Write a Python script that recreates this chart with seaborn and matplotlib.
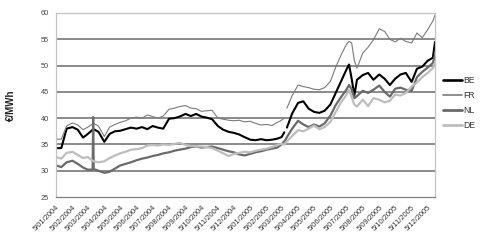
import numpy as np
import pandas as pd
import matplotlib
matplotlib.use("Agg")
import matplotlib.pyplot as plt
import seaborn as sns

dates = [
    "2004-01-05", "2004-01-15", "2004-01-25",
    "2004-02-05", "2004-02-15", "2004-02-25",
    "2004-03-05", "2004-03-14", "2004-03-15", "2004-03-16", "2004-03-25",
    "2004-04-05", "2004-04-15", "2004-04-25",
    "2004-05-05", "2004-05-15", "2004-05-25",
    "2004-06-05", "2004-06-15", "2004-06-25",
    "2004-07-05", "2004-07-15", "2004-07-25",
    "2004-08-05", "2004-08-15", "2004-08-25",
    "2004-09-05", "2004-09-15", "2004-09-25",
    "2004-10-05", "2004-10-15", "2004-10-25",
    "2004-11-05", "2004-11-15", "2004-11-25",
    "2004-12-05", "2004-12-15", "2004-12-25",
    "2005-01-05", "2005-01-15", "2005-01-25",
    "2005-02-05", "2005-02-15", "2005-02-25",
    "2005-03-05", "2005-03-10", "2005-03-12", "2005-03-15", "2005-03-25",
    "2005-04-05", "2005-04-15", "2005-04-25",
    "2005-05-05", "2005-05-15", "2005-05-25",
    "2005-06-05", "2005-06-15", "2005-06-25",
    "2005-07-05", "2005-07-10", "2005-07-15", "2005-07-20", "2005-07-25",
    "2005-08-05", "2005-08-15", "2005-08-25",
    "2005-09-05", "2005-09-15", "2005-09-25",
    "2005-10-05", "2005-10-15", "2005-10-25",
    "2005-11-05", "2005-11-15", "2005-11-25",
    "2005-12-05", "2005-12-15", "2005-12-19",
]

nan = np.nan
be = [34.3, 34.3, 38.0, 38.3, 37.8, 36.3, 37.0, 37.8, 37.9, 37.9, 37.4,
      35.5, 37.0, 37.5, 37.6, 37.9, 38.2, 38.0, 38.3, 37.9, 38.5, 38.2, 38.0,
      39.9, 40.0, 40.3, 40.8, 40.4, 40.8, 40.3, 40.1, 39.8, 38.5, 37.8, 37.4,
      37.2, 36.9, 36.4,
      35.9, 35.8, 36.0, 35.8, 35.9, 36.1, 36.4, 37.3, nan, 38.2, 40.9,
      42.9, 43.2, 41.8, 41.2, 41.0, 41.4, 42.6, 44.8, 47.0,
      49.2, 50.2, 47.5, 44.3, 47.3, 48.2, 48.6, 47.3, 48.3, 47.5, 46.3,
      47.5, 48.3, 48.6, 46.9, 49.4, 49.8, 50.9, 51.5, 54.5]
fr = [36.0, 36.0, 38.5, 39.1, 38.7, 37.8, 38.3, 38.9, 39.0, 39.0, 38.5,
      36.5, 38.3, 38.8, 39.2, 39.5, 40.0, 40.2, 40.0, 40.6, 40.3, 40.0, 40.4,
      41.7, 41.9, 42.2, 42.4, 41.9, 41.8, 41.3, 41.4, 41.5, 40.0, 39.8, 39.6,
      39.5, 39.6, 39.3,
      39.4, 39.0, 38.7, 38.8, 38.6, 39.2, 39.6, 40.0, nan, 41.9, 44.3,
      46.3, 46.0, 45.8, 45.5, 45.4, 45.8, 47.0, 49.7, 52.0,
      54.0, 54.6, 54.3, 51.0, 49.5, 52.4, 53.5, 54.9, 57.0, 56.5, 55.0,
      54.5, 55.2, 54.6, 54.3, 56.2, 55.3, 56.8, 58.5, 59.6]
nl = [31.0, 30.7, 31.6, 31.9, 31.3, 30.6, 30.2, 30.2, 40.2, 30.3, 30.0,
      29.6, 29.8, 30.4, 31.0, 31.3, 31.6, 32.0, 32.3, 32.5, 32.8, 33.0, 33.3,
      33.5, 33.8, 34.0, 34.2, 34.5, 34.6, 34.4, 34.5, 34.6, 34.3, 34.0, 33.7,
      33.5, 33.1, 32.9,
      33.2, 33.5, 33.7, 34.0, 34.2, 34.4, 35.0, 35.6, 35.8, 36.4, 38.0,
      39.5, 38.8, 38.3, 38.8, 38.4, 39.0, 40.5, 42.5, 44.0,
      45.4, 46.3, 45.5, 43.8, 44.2, 45.2, 44.8, 45.4, 46.2, 45.0, 44.1,
      45.6, 45.8, 45.4, 45.2, 47.8, 48.8, 49.6, 50.5, 52.0]
de = [32.6, 32.3, 33.4, 33.6, 33.0, 32.4, 32.6, 31.9, 31.8, 31.8, 31.6,
      31.8, 32.4, 32.9, 33.3, 33.6, 34.0, 34.1, 34.3, 34.8, 34.9, 34.8, 35.0,
      34.9, 35.1, 35.3, 34.9, 34.7, 34.6, 34.6, 34.5, 34.3, 33.8, 33.3, 32.8,
      33.2, 33.4, 33.6,
      33.5, 33.8, 34.0, 34.2, 34.5, 34.9, 35.1, 35.0, 35.2, 35.6, 36.6,
      37.7, 37.5, 38.0, 38.6, 37.9, 38.3, 39.3, 41.2, 43.0,
      44.4, 45.4, 44.0, 42.6, 42.2, 43.5, 42.3, 43.8, 43.5, 43.0, 43.3,
      44.5, 44.3, 44.8, 46.0, 46.8, 47.8, 48.6, 49.5, 50.5]

series_names = ["BE", "FR", "NL", "DE"]
tick_labels = [
    "5/01/2004", "5/02/2004", "5/03/2004", "5/04/2004", "5/05/2004", "5/06/2004",
    "5/07/2004", "5/08/2004", "5/09/2004", "5/10/2004", "5/11/2004", "5/12/2004",
    "5/01/2005", "5/02/2005", "5/03/2005", "5/04/2005", "5/05/2005", "5/06/2005",
    "5/07/2005", "5/08/2005", "5/09/2005", "5/10/2005", "5/11/2005", "5/12/2005",
]
y_ticks = [25, 30, 35, 40, 45, 50, 55, 60]

sns.set_style("white")
plt.rcParams["font.family"] = ["Liberation Sans", "DejaVu Sans"]

frames = []
for name, vals in zip(series_names, [be, fr, nl, de]):
    d = pd.DataFrame({"date": pd.to_datetime(dates), "price": vals, "series": name})
    d["seg"] = d["price"].isna().cumsum()
    frames.append(d.dropna())
df = pd.concat(frames, ignore_index=True)

styles = {
    "BE": dict(color="#000000", lw=1.5),
    "FR": dict(color="#7a7a7a", lw=0.8),
    "NL": dict(color="#6a6a6a", lw=1.6),
    "DE": dict(color="#bdbdbd", lw=1.6),
}

fig = plt.figure(figsize=(4.8, 2.4), dpi=100)
ax = fig.add_axes([56 / 480, 1 - 197 / 240, (435 - 56) / 480, (197 - 13) / 240])

for y in y_ticks[1:-1]:
    ax.axhline(y, color="#777777", lw=1.2, zorder=0)

for name in series_names:
    sub = df[df["series"] == name]
    sns.lineplot(data=sub, x="date", y="price", units="seg", estimator=None,
                 ax=ax, color=styles[name]["color"], lw=styles[name]["lw"],
                 legend=False)

handles = [plt.Line2D([], [], color=styles[n]["color"], lw=styles[n]["lw"] + 0.4) for n in series_names]
fig.legend(handles, series_names, loc="upper left", bbox_to_anchor=(443 / 480, 1 - 76 / 240),
           frameon=False, fontsize=6.2, handlelength=2.2, handletextpad=0.15,
           labelspacing=0.7, borderpad=0, borderaxespad=0, labelcolor="#333333")

tick_dates = pd.date_range("2004-01-05", periods=len(tick_labels), freq=pd.DateOffset(months=1))
ax.set_xticks(tick_dates)
ax.set_xticklabels(tick_labels, rotation=45, ha="right", rotation_mode="anchor",
                   fontsize=5.4, color="#333333")
ax.set_xlim(pd.Timestamp("2004-01-05"), pd.Timestamp("2005-12-19"))
ax.set_ylim(25, 60)
ax.set_yticks(y_ticks)
ax.set_yticklabels([str(v) for v in y_ticks], fontsize=5.3, color="#444444")
ax.tick_params(axis="x", length=3, width=0.7, color="#808080", pad=2, direction="out")
ax.tick_params(axis="y", length=0, pad=5)
ax.set_xlabel("")
ax.set_ylabel("€/MWh", fontsize=7, fontweight="bold", color="#222222")
ax.yaxis.set_label_coords(-0.105, 0.5)

for s in ["left", "top", "right"]:
    ax.spines[s].set_color("#c4c4c4")
    ax.spines[s].set_linewidth(0.9)
ax.spines["bottom"].set_color("#808080")
ax.spines["bottom"].set_linewidth(0.9)

fig.savefig("out.png", dpi=100)
